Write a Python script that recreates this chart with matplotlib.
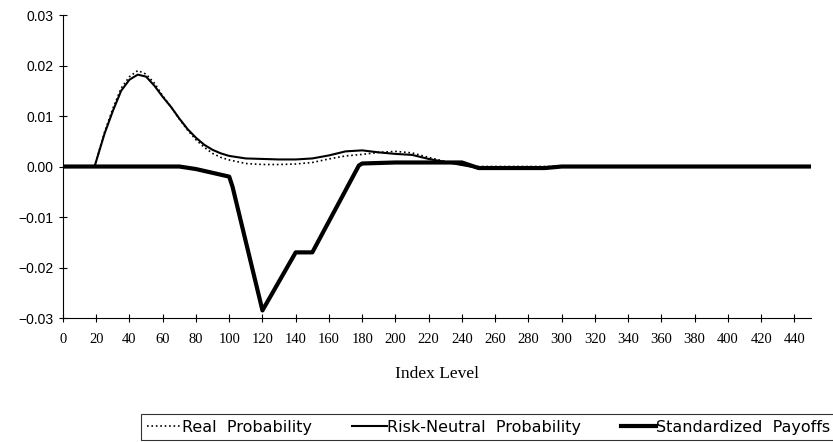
import matplotlib.pyplot as plt

# index level grid for the probability curves
prob_x = [0, 15, 19, 25, 30, 35, 40, 45, 50, 55, 60, 65, 70, 75, 80, 85, 90,
          95, 100, 110, 120, 130, 140, 150, 160, 170, 180, 190, 200, 210, 220,
          230, 240, 250, 260, 280, 300, 450]
real_prob = [0, 0, 0, 0.0068, 0.0115, 0.0155, 0.0178, 0.019, 0.0183, 0.0165,
             0.014, 0.0118, 0.0094, 0.0072, 0.0053, 0.0038, 0.0026, 0.0018,
             0.0013, 0.0006, 0.0004, 0.0004, 0.0005, 0.0008, 0.0015, 0.0021,
             0.0024, 0.0028, 0.003, 0.0027, 0.0018, 0.001, 0.0003, 0, 0, 0, 0, 0]
rn_prob = [0, 0, 0, 0.0065, 0.011, 0.015, 0.0172, 0.0182, 0.0178, 0.016,
           0.0138, 0.0118, 0.0095, 0.0074, 0.0057, 0.0043, 0.0033, 0.0026,
           0.0021, 0.0016, 0.0015, 0.0014, 0.0014, 0.0016, 0.0022, 0.003,
           0.0032, 0.0028, 0.0025, 0.0023, 0.0015, 0.0009, 0.0003, -0.0003,
           -0.0003, -0.0003, 0, 0]

payoff_x = [0, 70, 80, 100, 102, 120, 140, 150, 178, 180, 200, 240, 250, 290, 300, 450]
payoffs = [0, 0, -0.0005, -0.002, -0.004, -0.0285, -0.017, -0.017, 0.0002,
           0.0006, 0.0008, 0.0008, -0.0003, -0.0003, 0, 0]

x_ticks = list(range(0, 441, 20))
y_ticks = [-0.03, -0.02, -0.01, 0.0, 0.01, 0.02, 0.03]

fig = plt.figure(figsize=(8.33, 4.42), dpi=100)
ax = fig.add_axes([0.0756, 0.2805, 0.898, 0.6855])

ax.plot(prob_x, real_prob, color='black', linestyle=':', linewidth=1.2,
        label='Real  Probability')
ax.plot(prob_x, rn_prob, color='black', linestyle='-', linewidth=1.5,
        label='Risk-Neutral  Probability')
ax.plot(payoff_x, payoffs, color='black', linestyle='-', linewidth=3,
        label='Standardized  Payoffs')

ax.set_xlim(0, 450)
ax.set_ylim(-0.03, 0.03)
ax.set_xticks(x_ticks)
ax.set_yticks(y_ticks)
ax.set_xticklabels([str(v) for v in x_ticks], fontfamily='Liberation Serif', fontsize=10.5)
ax.set_yticklabels(['\u22120.03', '\u22120.02', '\u22120.01', '0.00', '0.01', '0.02', '0.03'],
                   fontfamily='Liberation Sans', fontsize=10)
ax.tick_params(axis='both', direction='inout', length=6, width=0.8, color='black')
ax.tick_params(axis='x', pad=8)
ax.tick_params(axis='y', pad=4)

for side in ['top', 'right']:
    ax.spines[side].set_visible(False)
ax.spines['left'].set_linewidth(0.8)
ax.spines['bottom'].set_linewidth(0.8)

ax.set_xlabel('Index Level', fontfamily='Liberation Serif', fontsize=12.5, labelpad=14)

leg = fig.legend(loc='lower right', bbox_to_anchor=(1.003, 0.004), ncol=3,
                 frameon=True, fancybox=False, edgecolor='black',
                 handlelength=2.2, handletextpad=0.0, columnspacing=2.5,
                 prop={'family': 'DejaVu Sans', 'size': 11.5},
                 borderpad=0.35, borderaxespad=0)
leg.get_frame().set_linewidth(0.8)

fig.savefig('out.png', dpi=100)
